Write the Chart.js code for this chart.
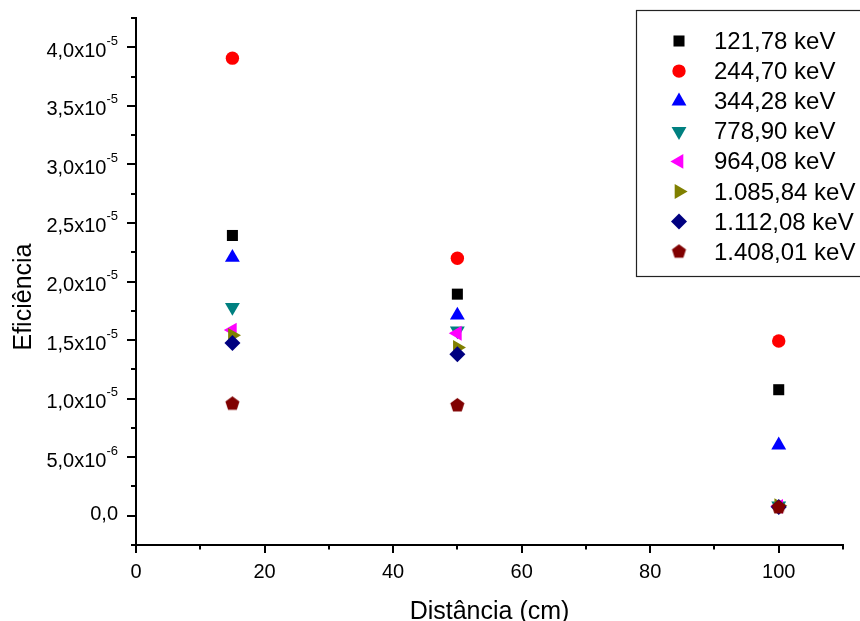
<!DOCTYPE html>
<html>
<head>
<meta charset="utf-8">
<script src="https://cdn.jsdelivr.net/npm/chart.js@4/dist/chart.umd.min.js"></script>
<style>
html, body { margin: 0; padding: 0; background: #fff; }
#wrap { width: 860px; height: 621px; }
</style>
</head>
<body>
<div id="wrap"><canvas id="ch" width="860" height="621"></canvas></div>
<script>
// ---- dados ----
const DIST = [15, 50, 100];                       // cm
const ENERGIAS = ["121,78 keV", "244,70 keV", "344,28 keV", "778,90 keV",
                  "964,08 keV", "1.085,84 keV", "1.112,08 keV", "1.408,01 keV"];
const EF_121  = [2.393e-5, 1.892e-5, 1.076e-5];
const EF_244  = [3.907e-5, 2.198e-5, 1.492e-5];
const EF_344  = [2.205e-5, 1.712e-5, 0.602e-5];
const EF_778  = [1.78e-5,  1.58e-5,  0.085e-5];
const EF_964  = [1.585e-5, 1.558e-5, 0.08e-5];
const EF_1085 = [1.54e-5,  1.436e-5, 0.085e-5];
const EF_1112 = [1.475e-5, 1.378e-5, 0.075e-5];
const EF_1408 = [0.956e-5, 0.942e-5, 0.071e-5];

const X_TICKS = [0, 20, 40, 60, 80, 100];
const X_LABELS = ["0", "20", "40", "60", "80", "100"];
const Y_TICKS = [0, 5e-6, 1e-5, 1.5e-5, 2e-5, 2.5e-5, 3e-5, 3.5e-5, 4e-5];
const Y_MANT = ["0,0", "5,0x10", "1,0x10", "1,5x10", "2,0x10", "2,5x10", "3,0x10", "3,5x10", "4,0x10"];
const Y_EXP  = ["", "-6", "-5", "-5", "-5", "-5", "-5", "-5", "-5"];

const FONT = "'Liberation Sans', Arial, sans-serif";

function pentagono(cor, r) {
  const s = Math.ceil(r * 2) + 2;
  const c = document.createElement("canvas");
  c.width = s; c.height = s;
  const g = c.getContext("2d");
  g.fillStyle = cor;
  g.beginPath();
  for (let k = 0; k < 5; k++) {
    const a = -Math.PI / 2 + k * 2 * Math.PI / 5;
    const px = s / 2 + r * Math.cos(a), py = s / 2 + r * Math.sin(a);
    k ? g.lineTo(px, py) : g.moveTo(px, py);
  }
  g.closePath(); g.fill();
  return c;
}

const ESTILOS = [
  { cor: "#000000", forma: "rect",     raio: 7.8, rot: 0 },
  { cor: "#FF0000", forma: "circle",   raio: 6.7, rot: 0 },
  { cor: "#0000FF", forma: "triangle", raio: 8.6, rot: 0 },
  { cor: "#008080", forma: "triangle", raio: 8.6, rot: 180 },
  { cor: "#FF00FF", forma: "triangle", raio: 8.6, rot: 270 },
  { cor: "#808000", forma: "triangle", raio: 8.6, rot: 90 },
  { cor: "#000080", forma: "rectRot",  raio: 8.0, rot: 0 },
  { cor: "#800000", forma: pentagono("#800000", 7.4), raio: 7.4, rot: 0 }
];
const SERIES = [EF_121, EF_244, EF_344, EF_778, EF_964, EF_1085, EF_1112, EF_1408];

const datasets = SERIES.map((ys, i) => ({
  label: ENERGIAS[i],
  data: DIST.map((x, j) => ({ x: x, y: ys[j] })),
  showLine: false,
  pointStyle: ESTILOS[i].forma,
  pointRadius: ESTILOS[i].raio,
  pointRotation: ESTILOS[i].rot,
  pointBackgroundColor: ESTILOS[i].cor,
  pointBorderColor: ESTILOS[i].cor,
  pointBorderWidth: 0,
  order: 10 - i
}));

// eixos estilo Origin: ticks, rótulos com expoente, títulos e legenda com moldura
const eixosOrigin = {
  id: "eixosOrigin",
  afterDraw(chart) {
    const ctx = chart.ctx, xs = chart.scales.x, ys = chart.scales.y;
    const ca = chart.chartArea;
    ctx.save();
    ctx.strokeStyle = "#000"; ctx.lineWidth = 2;
    // ticks eixo x (a cada 10)
    for (let k = 0; k <= 11; k++) {
      const px = Math.round(xs.getPixelForValue(k * 10));
      const len = k % 2 === 0 ? 8 : 4.5;
      ctx.beginPath(); ctx.moveTo(px, ca.bottom); ctx.lineTo(px, ca.bottom + len); ctx.stroke();
    }
    // ticks eixo y (a cada 2,5e-6)
    for (let k = 0; k <= 18; k++) {
      const py = Math.round(ys.getPixelForValue(-2.5e-6 + k * 2.5e-6));
      const len = k % 2 === 1 ? 9 : 5;
      ctx.beginPath(); ctx.moveTo(ca.left, py); ctx.lineTo(ca.left - len, py); ctx.stroke();
    }
    ctx.fillStyle = "#000";
    // rótulos x
    ctx.font = "20px " + FONT; ctx.textAlign = "center"; ctx.textBaseline = "alphabetic";
    X_TICKS.forEach((v, i) => ctx.fillText(X_LABELS[i], xs.getPixelForValue(v), ca.bottom + 33));
    // rótulos y
    const dir = ca.left - 18;
    Y_TICKS.forEach((v, i) => {
      const py = ys.getPixelForValue(v);
      ctx.textAlign = "right";
      if (!Y_EXP[i]) {
        ctx.font = "20px " + FONT;
        ctx.fillText(Y_MANT[i], dir, py + 4.5);
        return;
      }
      ctx.font = "13px " + FONT;
      const we = ctx.measureText(Y_EXP[i]).width;
      ctx.fillText(Y_EXP[i], dir, py - 2.5);
      ctx.font = "20px " + FONT;
      ctx.fillText(Y_MANT[i], dir - we, py + 9.5);
    });
    // títulos
    ctx.font = "25px " + FONT; ctx.textAlign = "center";
    ctx.fillText("Distância (cm)", (ca.left + ca.right) / 2, 619);
    ctx.save();
    ctx.translate(31, 297); ctx.rotate(-Math.PI / 2);
    ctx.fillText("Eficiência", 0, 0);
    ctx.restore();
    // legenda
    ctx.fillStyle = "#fff";
    ctx.fillRect(636.5, 10.5, 240, 266);
    ctx.strokeStyle = "#222"; ctx.lineWidth = 1.2;
    ctx.strokeRect(636.5, 10.5, 240, 266);
    chart.data.datasets.forEach((ds, i) => {
      const cy = 41 + i * 30.1;
      ctx.fillStyle = ds.pointBackgroundColor;
      ctx.strokeStyle = ds.pointBorderColor;
      Chart.helpers.drawPoint(ctx, {
        pointStyle: ds.pointStyle, rotation: ds.pointRotation,
        radius: ds.pointRadius, borderWidth: 0
      }, 679, cy);
      ctx.fillStyle = "#000"; ctx.font = "24px " + FONT; ctx.textAlign = "left";
      ctx.fillText(ds.label, 714, cy + 8);
    });
    ctx.restore();
  }
};

new Chart(document.getElementById("ch"), {
  type: "scatter",
  data: { datasets: datasets },
  options: {
    responsive: false, animation: false, devicePixelRatio: 1,
    layout: { padding: { left: 136, right: 17, top: 18, bottom: 76 } },
    plugins: { legend: { display: false }, tooltip: { enabled: false } },
    scales: {
      x: { type: "linear", min: 0, max: 110,
           grid: { display: false, drawTicks: false }, ticks: { display: false },
           border: { display: true, color: "#000", width: 2 } },
      y: { type: "linear", min: -2.5e-6, max: 4.25e-5,
           grid: { display: false, drawTicks: false }, ticks: { display: false },
           border: { display: true, color: "#000", width: 2 } }
    }
  },
  plugins: [eixosOrigin]
});
</script>
</body>
</html>
